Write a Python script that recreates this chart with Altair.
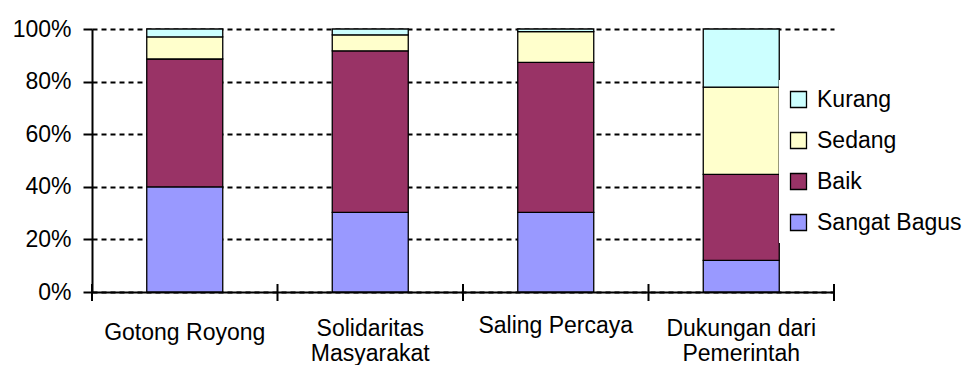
import altair as alt
import pandas as pd

# Kategori modal sosial dan persentase penilaian per kelompok
categories = ["Gotong Royong", "Solidaritas Masyarakat", "Saling Percaya", "Dukungan dari Pemerintah"]
series = ["Sangat Bagus", "Baik", "Sedang", "Kurang"]
sangat_bagus = [40.0, 30.3, 30.3, 12.0]
baik = [48.6, 61.4, 57.0, 32.7]
sedang = [8.4, 6.1, 11.7, 33.2]
kurang = [3.0, 2.2, 1.0, 22.1]

legend_order = ["Kurang", "Sedang", "Baik", "Sangat Bagus"]
legend_colors = ["#CCFFFF", "#FFFFCC", "#993366", "#9999FF"]
y_ticks = [0, 0.2, 0.4, 0.6, 0.8, 1.0]

FONT = "Liberation Sans"
FS = 23

rows = []
for i, cat in enumerate(categories):
    for rank, (name, vals) in enumerate(zip(series, [sangat_bagus, baik, sedang, kurang])):
        rows.append({"kategori": cat, "kelompok": name, "nilai": vals[i], "urutan": rank})
df = pd.DataFrame(rows)

x_scale = alt.Scale(domain=categories, paddingInner=0, paddingOuter=0)

label_expr = (
    "datum.value == 'Solidaritas Masyarakat' ? ['Solidaritas', 'Masyarakat'] : "
    "datum.value == 'Dukungan dari Pemerintah' ? ['Dukungan dari', 'Pemerintah'] : datum.label"
)

x_axis = alt.Axis(
    title=None,
    labelAngle=0,
    ticks=False,
    tickSize=0,
    labelExpr=label_expr,
    labelFont=FONT,
    labelFontSize=FS,
    labelColor="black",
    labelLineHeight=25,
    labelBaseline="top",
    labelPadding={
        "condition": [
            {"test": "datum.value == 'Saling Percaya'", "value": 22},
            {"test": "datum.value == 'Gotong Royong'", "value": 29},
        ],
        "value": 25,
    },
    domainColor="black",
    domainWidth=2,
)

bars = alt.Chart(df).mark_bar(stroke="black", strokeWidth=1.3, width=76).encode(
    x=alt.X("kategori:N", scale=x_scale, sort=categories, axis=x_axis),
    y=alt.Y(
        "nilai:Q",
        stack="normalize",
        scale=alt.Scale(domain=[0, 1]),
        axis=alt.Axis(
            title=None,
            format=".0%",
            values=y_ticks,
            grid=True,
            gridColor="black",
            gridDash=[5, 4],
            gridWidth=2,
            domainColor="black",
            domainWidth=2,
            tickColor="black",
            tickWidth=2,
            tickSize=9,
            labelPadding=12,
            labelFont=FONT,
            labelFontSize=FS,
            labelColor="black",
        ),
    ),
    color=alt.Color(
        "kelompok:N",
        scale=alt.Scale(domain=legend_order, range=legend_colors),
        legend=alt.Legend(
            title=None,
            orient="none",
            legendX=687,
            legendY=51,
            fillColor="white",
            padding=8,
            symbolType="square",
            symbolSize=256,
            symbolStrokeColor="black",
            symbolStrokeWidth=1.3,
            symbolOpacity=1,
            labelFont=FONT,
            labelFontSize=FS,
            labelColor="black",
            labelOffset=7,
            rowPadding=17,
        ),
    ),
    order=alt.Order("urutan:Q"),
)

# Garis pemisah kategori yang memotong sumbu X
tick_df = pd.DataFrame({"kategori": categories})
last_df = pd.DataFrame({"kategori": [categories[-1]]})

start_ticks = alt.Chart(tick_df).mark_rule(color="black", strokeWidth=2).encode(
    x=alt.X("kategori:N", scale=x_scale, sort=categories, bandPosition=0, axis=x_axis),
    y=alt.value(255),
    y2=alt.value(272),
)
end_tick = alt.Chart(last_df).mark_rule(color="black", strokeWidth=2).encode(
    x=alt.X("kategori:N", scale=x_scale, sort=categories, bandPosition=1, axis=x_axis),
    y=alt.value(255),
    y2=alt.value(272),
)

chart = (
    alt.layer(bars, start_ticks, end_tick)
    .properties(
        width=742,
        height=263,
        autosize=alt.AutoSizeParams(type="none"),
        padding={"left": 92, "top": 29, "right": 134, "bottom": 73},
        background="white",
    )
    .configure_view(stroke=None)
)

chart.save("out.html", embed_options={"renderer": "svg", "actions": False})
